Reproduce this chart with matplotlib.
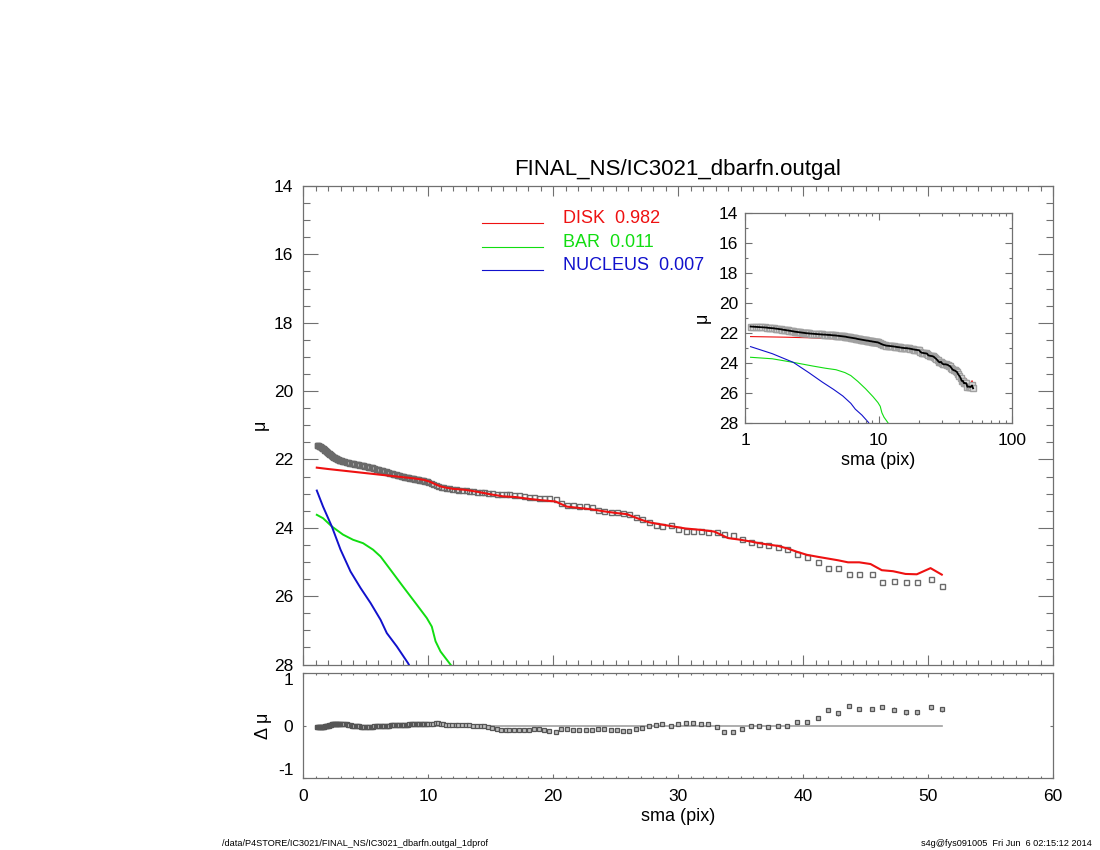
import matplotlib
matplotlib.use('Agg')
import matplotlib.pyplot as plt
from matplotlib.ticker import MultipleLocator, FixedLocator, NullFormatter, LogLocator, NullLocator

plt.rcParams['font.family'] = ['Liberation Sans', 'DejaVu Sans']
plt.rcParams['axes.unicode_minus'] = False

TITLE = 'FINAL_NS/IC3021_dbarfn.outgal'
FOOT_LEFT = '/data/P4STORE/IC3021/FINAL_NS/IC3021_dbarfn.outgal_1dprof'
FOOT_RIGHT = 's4g@fys091005  Fri Jun  6 02:15:12 2014'
LEGEND_LABELS = ['DISK  0.982', 'BAR  0.011', 'NUCLEUS  0.007']

# ---- observed profile (sma in pix, mu in mag/arcsec^2, residual) ----
sma = [1.10, 1.15, 1.20, 1.25, 1.30, 1.35, 1.40, 1.45, 1.50, 1.55, 1.60, 1.65, 1.70,
       1.75, 1.80, 1.85, 1.90, 1.95, 2.00, 2.05, 2.10, 2.15, 2.20, 2.25, 2.30, 2.35,
       2.40, 2.45, 2.50, 2.55, 2.60, 2.65, 2.70, 2.75, 2.80, 2.85, 2.90, 2.95, 3.00,
       3.1, 3.2, 3.3, 3.4, 3.5, 3.6, 3.7, 3.8, 3.9, 4.0, 4.1, 4.2, 4.3, 4.4, 4.5,
       4.6, 4.7, 4.8, 4.9, 5.0, 5.1, 5.2, 5.3, 5.4, 5.5, 5.6, 5.7, 5.8, 5.9, 6.0,
       6.1, 6.2, 6.3, 6.4, 6.5, 6.6, 6.7, 6.8, 6.9, 7.0, 7.1, 7.2, 7.3, 7.4, 7.5,
       7.6, 7.7, 7.8, 7.9, 8.0, 8.1, 8.2, 8.3, 8.4, 8.5, 8.6, 8.7, 8.8, 8.9, 9.0,
       9.1, 9.2, 9.3, 9.4, 9.5, 9.6, 9.7, 9.8, 9.9, 10.0,
       10.2, 10.4, 10.6, 10.8, 11.0, 11.2, 11.4, 11.7, 11.9, 12.2, 12.4, 12.7, 13.0,
       13.3, 13.6, 13.9, 14.2, 14.5, 14.8, 15.1, 15.5, 15.8, 16.2, 16.5, 16.9, 17.3,
       17.7, 18.1, 18.5, 18.9, 19.3, 19.7, 20.2, 20.6, 21.1, 21.6, 22.1, 22.6, 23.1,
       23.6, 24.1, 24.6, 25.1, 25.6,
       26.05, 26.6, 27.1, 27.7, 28.2, 28.75, 29.4, 30.0, 30.6, 31.2, 31.8, 32.4, 33.1,
       33.7, 34.4, 35.1, 35.8, 36.5, 37.2, 38.0, 38.75, 39.5, 40.3, 41.2, 42.0, 42.8,
       43.7, 44.5, 45.5, 46.3, 47.3, 48.2, 49.1, 50.2, 51.1]

mu = [21.57, 21.58, 21.59, 21.60, 21.61, 21.62, 21.63, 21.64, 21.66, 21.67, 21.68, 21.69, 21.71,
      21.72, 21.74, 21.75, 21.77, 21.79, 21.80, 21.82, 21.83, 21.85, 21.86, 21.88, 21.89, 21.91,
      21.92, 21.93, 21.94, 21.95, 21.96, 21.97, 21.98, 21.99, 22.00, 22.01, 22.02, 22.02, 22.03,
      22.04, 22.05, 22.06, 22.07, 22.08, 22.08, 22.09, 22.10, 22.11, 22.11, 22.12, 22.13, 22.13, 22.14, 22.15,
      22.16, 22.16, 22.17, 22.18, 22.19, 22.20, 22.21, 22.21, 22.22, 22.23, 22.24, 22.25, 22.27, 22.28, 22.29,
      22.30, 22.31, 22.32, 22.33, 22.34, 22.35, 22.36, 22.37, 22.39, 22.40, 22.41, 22.42, 22.43, 22.44, 22.45,
      22.46, 22.46, 22.47, 22.48, 22.49, 22.50, 22.51, 22.51, 22.52, 22.53, 22.54, 22.55, 22.55, 22.56, 22.57,
      22.58, 22.58, 22.59, 22.60, 22.60, 22.61, 22.62, 22.62, 22.63, 22.65,
      22.68, 22.72, 22.75, 22.78, 22.80, 22.82, 22.84, 22.85, 22.86, 22.87, 22.88, 22.89, 22.90,
      22.91, 22.93, 22.94, 22.95, 22.96, 22.98, 22.99, 23.00, 23.01, 23.01, 23.02, 23.03, 23.05,
      23.07, 23.09, 23.11, 23.12, 23.13, 23.14, 23.16, 23.26, 23.32, 23.33, 23.35, 23.36, 23.38,
      23.49, 23.51, 23.53, 23.54, 23.56,
      23.60, 23.68, 23.73, 23.83, 23.91, 23.96, 23.93, 24.03, 24.09, 24.09, 24.09, 24.11, 24.13,
      24.18, 24.22, 24.32, 24.43, 24.48, 24.50, 24.55, 24.61, 24.76, 24.85, 25.00, 25.19, 25.19,
      25.35, 25.34, 25.35, 25.59, 25.57, 25.59, 25.60, 25.50, 25.69]

resid = [-0.03, -0.03, -0.03, -0.03, -0.03, -0.03, -0.03, -0.03, -0.03,
         -0.03, -0.02, -0.02, -0.02, -0.01, -0.01, -0.01, -0.01, 0.00, 0.00,
         0.00, 0.01, 0.01, 0.01, 0.01, 0.02, 0.02, 0.02, 0.02, 0.02,
         0.03, 0.03, 0.03, 0.03, 0.03, 0.03, 0.03, 0.03, 0.03, 0.03,
         0.03, 0.03, 0.02, 0.02, 0.02, 0.01, 0.01, 0.01, 0.00, 0.00,
         0.00, -0.01, -0.01, -0.01, -0.01, -0.02, -0.02, -0.02, -0.02, -0.02,
         -0.02, -0.02, -0.02, -0.02, -0.02, -0.02, -0.01, -0.01, -0.01, -0.01,
         -0.01, -0.01, 0.00, 0.00, 0.00, 0.00, 0.00, 0.00, 0.00, 0.01,
         0.01, 0.01, 0.01, 0.01, 0.01, 0.01, 0.01, 0.01, 0.01, 0.01,
         0.01, 0.01, 0.01, 0.01, 0.02, 0.02, 0.02, 0.02, 0.02, 0.02,
         0.02, 0.02, 0.02, 0.02, 0.02, 0.02, 0.02, 0.02, 0.02, 0.03,
         0.03, 0.03, 0.04, 0.04, 0.03, 0.02, 0.01, 0.01, 0.01, 0.01, 0.01, 0.01, 0.01,
         0.01, 0.00, 0.00, -0.01, -0.01, -0.02, -0.04, -0.06, -0.08, -0.09, -0.09, -0.09, -0.08,
         -0.08, -0.08, -0.07, -0.07, -0.08, -0.10, -0.12, -0.07, -0.07, -0.08, -0.09, -0.09, -0.08,
         -0.07, -0.07, -0.08, -0.08, -0.10,
         -0.10, -0.07, -0.05, -0.01, 0.01, 0.02, 0.00, 0.03, 0.05, 0.05, 0.03, 0.02, -0.02,
         -0.13, -0.12, -0.07, -0.01, -0.01, -0.03, -0.01, -0.01, 0.06, 0.06, 0.15, 0.30, 0.23,
         0.37, 0.32, 0.31, 0.35, 0.30, 0.25, 0.25, 0.35, 0.31]

# residual error bars for the outermost 14 isophotes
resid_err_tail = [0.02, 0.02, 0.03, 0.04, 0.04, 0.04, 0.04, 0.04, 0.04, 0.05, 0.05, 0.05, 0.05, 0.05]

# ---- model components ----
disk_sma = [1.1, 2.0, 3.0, 4.0, 5.0, 6.0, 7.0, 8.0, 9.0, 9.7, 10.2, 10.6, 11.0, 11.5, 12.0,
            13.0, 14.0, 15.0, 16.0, 17.0, 18.0, 19.0, 20.2, 21.1, 22.1, 23.1, 24.1, 25.1,
            25.9, 26.6, 27.1, 27.7, 28.3, 29.6, 30.6, 31.8, 32.9, 34.0, 35.0, 35.8, 36.5,
            37.2, 38.0, 38.8, 39.5, 40.3, 41.2, 42.0, 42.8, 43.6, 44.5, 45.4, 46.3, 47.2,
            48.2, 49.1, 50.2, 51.1]
disk_mu = [22.24, 22.28, 22.32, 22.36, 22.40, 22.44, 22.48, 22.52, 22.56, 22.60, 22.66, 22.73,
           22.79, 22.83, 22.86, 22.89, 22.95, 23.02, 23.08, 23.10, 23.15, 23.19, 23.23, 23.38,
           23.42, 23.46, 23.52, 23.57, 23.60, 23.70, 23.77, 23.84, 23.88, 23.96, 24.02, 24.06,
           24.11, 24.30, 24.35, 24.40, 24.45, 24.49, 24.53, 24.61, 24.70, 24.79, 24.85, 24.90,
           24.95, 25.01, 25.01, 25.06, 25.24, 25.27, 25.35, 25.36, 25.18, 25.37]

bar_sma = [1.1, 1.6, 2.3, 3.2, 4.0, 4.8, 5.6, 6.2, 7.0, 8.0, 9.1, 9.9, 10.3, 10.6, 11.0, 11.5, 12.0]
bar_mu = [23.62, 23.72, 23.96, 24.20, 24.35, 24.45, 24.64, 24.84, 25.23, 25.72, 26.25, 26.64,
          26.89, 27.32, 27.62, 27.86, 28.10]

nuc_sma = [1.1, 1.6, 2.3, 3.0, 3.8, 4.6, 5.4, 6.2, 6.7, 7.5, 8.4, 8.6]
nuc_mu = [22.91, 23.38, 23.96, 24.64, 25.28, 25.76, 26.20, 26.69, 27.08, 27.47, 27.96, 28.10]

RED = '#ee1111'
GREEN = '#11dd11'
BLUE = '#1111cc'
AXC = '#707070'

fig = plt.figure(figsize=(11, 8.5), dpi=100)
ax = fig.add_axes([0.2755, 0.2182, 0.6818, 0.5630])
axr = fig.add_axes([0.2755, 0.0847, 0.6818, 0.1235])
axi = fig.add_axes([0.6773, 0.5024, 0.2427, 0.2470])

for a in (ax, axr, axi):
    for s in a.spines.values():
        s.set_color(AXC)
        s.set_linewidth(0.9)
    a.tick_params(which='both', direction='in', top=True, right=True, color=AXC,
                  labelsize=12.5, width=0.8)

# ---- main panel ----
ax.plot(sma, mu, ls='none', marker='s', ms=3.6, mfc='none', mec='#6a6a6a', mew=1.0, zorder=2)
ax.plot(disk_sma, disk_mu, color=RED, lw=1.5, zorder=3)
ax.plot(bar_sma, bar_mu, color=GREEN, lw=1.4, zorder=3)
ax.plot(nuc_sma, nuc_mu, color=BLUE, lw=1.4, zorder=3)
ax.set_xlim(0, 60)
ax.set_ylim(28, 14)
ax.xaxis.set_major_locator(MultipleLocator(10))
ax.xaxis.set_minor_locator(MultipleLocator(1))
ax.yaxis.set_major_locator(MultipleLocator(2))
ax.yaxis.set_minor_locator(MultipleLocator(0.5))
ax.tick_params(axis='x', which='major', length=7)
ax.tick_params(axis='x', which='minor', length=3.5)
ax.tick_params(axis='y', which='major', length=10.5, pad=7)
ax.tick_params(axis='y', which='minor', length=5)
ax.tick_params(axis='x', labelbottom=False)
ax.set_ylabel('μ', fontsize=13)
ax.yaxis.set_label_coords(-0.046, 0.5)
ax.set_title(TITLE, fontsize=16, pad=8)

# legend drawn as line samples + coloured labels (axes-fraction placement)
leg_rows_y = [0.9233, 0.8731, 0.8245]
for lab, c, yy in zip(LEGEND_LABELS, (RED, GREEN, BLUE), leg_rows_y):
    ax.plot([0.2383, 0.3204], [yy, yy], color=c, lw=0.8, transform=ax.transAxes)
    ax.text(0.3463, yy, lab, color=c, fontsize=13, ha='left', va='baseline',
            transform=ax.transAxes)

# ---- residual panel ----
axr.plot([sma[0], sma[-1]], [0, 0], color='#a0a0a0', lw=1.2, zorder=1)
n_tail = len(resid_err_tail)
axr.errorbar(sma[-n_tail:], resid[-n_tail:], yerr=resid_err_tail, fmt='none',
             ecolor='#808080', elinewidth=0.9, capsize=0, zorder=2)
axr.plot(sma, resid, ls='none', marker='s', ms=2.9, mfc='#c0c0c0', mec='#555555', mew=0.9, zorder=3)
axr.set_xlim(0, 60)
axr.set_ylim(-1, 1)
axr.xaxis.set_major_locator(MultipleLocator(10))
axr.xaxis.set_minor_locator(MultipleLocator(1))
axr.yaxis.set_major_locator(FixedLocator([-1, 0, 1]))
axr.yaxis.set_minor_locator(NullLocator())
axr.tick_params(axis='x', which='major', length=3, pad=8)
axr.tick_params(axis='x', which='minor', length=1.5)
axr.tick_params(axis='y', which='major', length=2, pad=7)
axr.set_ylabel('Δ μ', fontsize=13)
axr.yaxis.set_label_coords(-0.042, 0.5)
axr.set_xlabel('sma (pix)', fontsize=13)
axr.xaxis.set_label_coords(0.5, -0.285)
# keep the end labels of the residual axis inside the panel height (as in the reference)
rticks = axr.yaxis.get_major_ticks()
rticks[0].label1.set_verticalalignment('bottom')
rticks[-1].label1.set_verticalalignment('top')

# ---- inset (log sma) ----
axi.plot(disk_sma, disk_mu, color=RED, lw=0.8, zorder=1)
axi.plot(bar_sma, bar_mu, color=GREEN, lw=0.8, zorder=1)
axi.plot(nuc_sma, nuc_mu, color=BLUE, lw=0.8, zorder=1)
axi.plot(sma, mu, ls='none', marker='s', ms=4.0, mfc='#e0e0e0', mec='#a0a0a0', mew=1.0, zorder=2)
axi.plot(sma, mu, color='black', lw=1.3, zorder=3)
axi.set_xscale('log')
axi.set_xlim(1, 100)
axi.set_ylim(28, 14)
axi.xaxis.set_major_locator(FixedLocator([1, 10, 100]))
axi.set_xticklabels(['1', '10', '100'])
axi.xaxis.set_minor_locator(LogLocator(base=10, subs=range(2, 10)))
axi.xaxis.set_minor_formatter(NullFormatter())
axi.yaxis.set_major_locator(MultipleLocator(2))
axi.yaxis.set_minor_locator(MultipleLocator(1))
axi.tick_params(axis='x', which='major', length=5, pad=7)
axi.tick_params(axis='x', which='minor', length=2.5)
axi.tick_params(axis='y', which='major', length=5, pad=5)
axi.tick_params(axis='y', which='minor', length=2.5)
axi.set_ylabel('μ', fontsize=13)
axi.yaxis.set_label_coords(-0.127, 0.5)
axi.set_xlabel('sma (pix)', fontsize=13)
axi.xaxis.set_label_coords(0.5, -0.14)

# ---- footers ----
fig.text(0.2018, 0.002, FOOT_LEFT, fontsize=6.6, ha='left', va='bottom')
fig.text(0.9925, 0.002, FOOT_RIGHT, fontsize=6.6, ha='right', va='bottom')

fig.savefig('out.png', dpi=100)
